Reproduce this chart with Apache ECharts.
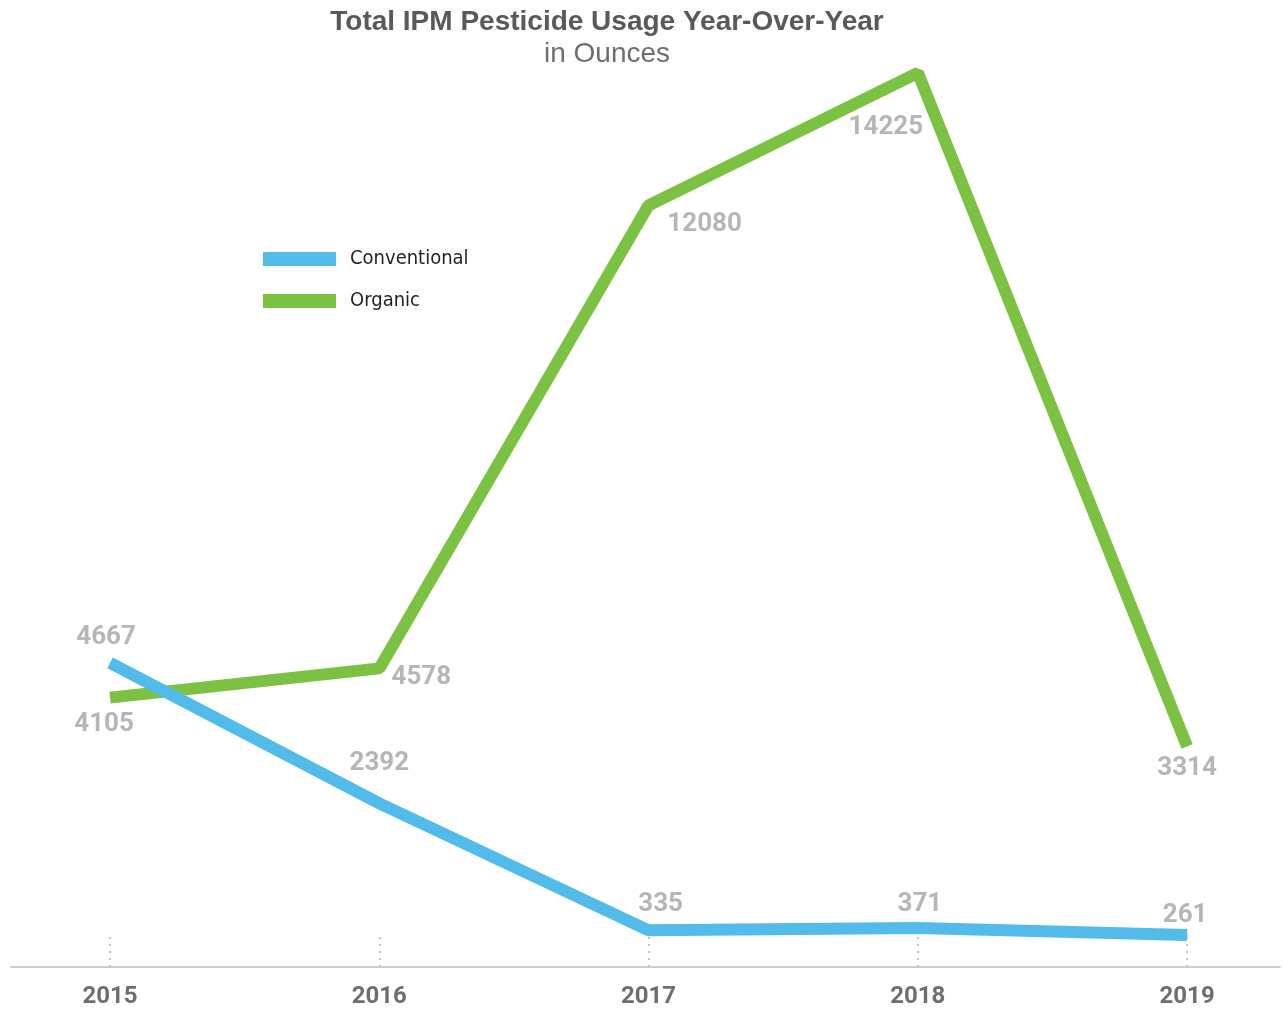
<!DOCTYPE html>
<html><head><meta charset="utf-8">
<script src="https://cdn.jsdelivr.net/npm/echarts@6/dist/echarts.min.js"></script>
<style>html,body{margin:0;padding:0;background:#fff}#c{width:1283px;height:1009px}</style>
</head><body><div id="c"></div>
<script>
var years = [2015, 2016, 2017, 2018, 2019];
var conventional = [4667, 2392, 335, 371, 261];
var organic = [4105, 4578, 12080, 14225, 3314];
var seriesNames = ['Conventional', 'Organic'];

var LABELFONT = 'Roboto, "Liberation Sans", sans-serif';
var labelColor = '#b5b6b9';
var convOffsets = [[-4, -7], [0, -21], [12, -7], [2, -5], [-2, -1]];
var orgOffsets = [[-6, 8], [42, -9], [56, 1], [-32, 36], [0, 4]];

function build(vals, pos, offs) {
  return vals.map(function (v, i) {
    return { value: [years[i], v], label: { position: pos, offset: offs[i] } };
  });
}

var chart = echarts.init(document.getElementById('c'));
chart.setOption({
  animation: false,
  title: {
    text: 'Total IPM Pesticide Usage Year-Over-Year',
    subtext: 'in Ounces',
    left: 602, textAlign: 'center', top: 3, itemGap: 4,
    textStyle: { fontFamily: 'Arial, "Liberation Sans", sans-serif', fontWeight: 'bold', fontSize: 28, color: '#58595b' },
    subtextStyle: { fontFamily: 'Arial, "Liberation Sans", sans-serif', fontSize: 28, color: '#6d6e71' }
  },
  legend: {
    orient: 'vertical', left: 258, top: 244, itemGap: 22,
    itemWidth: 73, itemHeight: 14, icon: 'rect',
    data: seriesNames,
    textStyle: { fontFamily: '"DejaVu Sans Condensed", sans-serif', fontSize: 20, color: '#231f20', padding: [0, 0, 0, 9] }
  },
  grid: { left: 11, right: 3, top: 25, bottom: 42, outerBoundsMode: 'none', containLabel: false },
  xAxis: {
    type: 'value', min: 2014.632, max: 2019.345,
    axisLine: { onZero: false, lineStyle: { color: '#cdcdcd', width: 2 } },
    axisTick: { show: true, customValues: years, inside: true, length: 32, lineStyle: { color: '#c4c4c4', type: [2, 5], width: 2 } },
    axisLabel: { customValues: years, margin: 18, fontFamily: LABELFONT, fontWeight: 'bold', fontSize: 24, color: '#6d6e71', formatter: function (v) { return String(v); } },
    splitLine: { show: false }
  },
  yAxis: { type: 'value', min: -259, max: 15000, show: false, splitLine: { show: false } },
  series: [
    {
      name: seriesNames[0], type: 'line', z: 3,
      data: build(conventional, 'top', convOffsets),
      symbol: 'circle', symbolSize: 1,
      lineStyle: { width: 12, color: '#52bbea', cap: 'butt' },
      itemStyle: { color: '#52bbea' },
      label: { show: true, fontFamily: LABELFONT, fontWeight: 'bold', fontSize: 26, color: labelColor, formatter: function (p) { return p.value[1]; } }
    },
    {
      name: seriesNames[1], type: 'line', z: 2,
      data: build(organic, 'bottom', orgOffsets),
      symbol: 'circle', symbolSize: 1,
      lineStyle: { width: 12, color: '#7bc142', cap: 'butt' },
      itemStyle: { color: '#7bc142' },
      label: { show: true, fontFamily: LABELFONT, fontWeight: 'bold', fontSize: 26, color: labelColor, formatter: function (p) { return p.value[1]; } }
    }
  ]
});
</script></body></html>
